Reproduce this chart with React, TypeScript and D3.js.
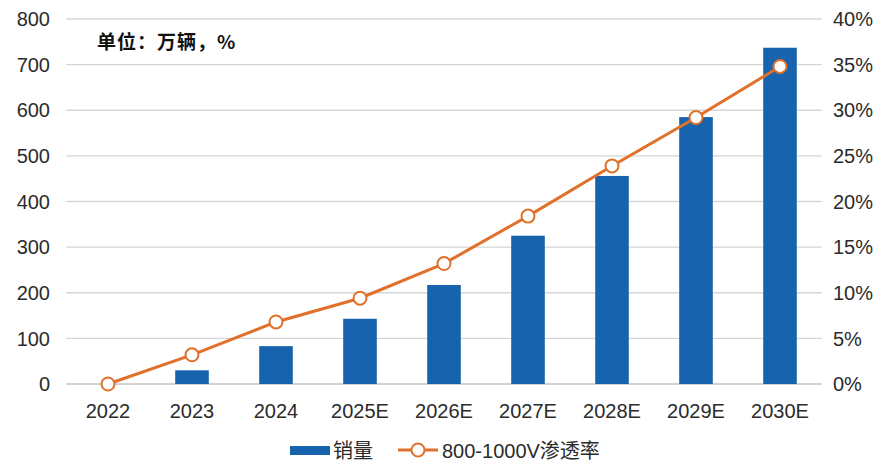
import React, { useEffect, useRef } from 'react';
import * as d3 from 'd3';

const categories = ['2022', '2023', '2024', '2025E', '2026E', '2027E', '2028E', '2029E', '2030E'];
const sales = [0, 30, 83, 143, 217, 325, 456, 585, 737];
const penetration = [0, 3.2, 6.8, 9.4, 13.2, 18.4, 23.9, 29.2, 34.8];
const leftTicks = [0, 100, 200, 300, 400, 500, 600, 700, 800];
const rightTicks = [0, 5, 10, 15, 20, 25, 30, 35, 40];

const W = 894;
const H = 469;

const App: React.FC = () => {
    const svgRef = useRef<SVGSVGElement>(null);

    useEffect(() => {
        if (!svgRef.current) return;
        const svg = d3.select(svgRef.current);
        svg.selectAll('*').remove();

        const font = 'Liberation Sans, Arial, sans-serif';
        const cjk = 'Noto Sans CJK SC, sans-serif';
        const left = 66, right = 822, top = 19, bottom = 384;

        const x = d3.scaleBand<string>().domain(categories).range([left, right]).paddingInner(0.6).paddingOuter(0.3);
        const xc = d3.scalePoint<string>().domain(categories).range([left, right]).padding(0.5);
        const yL = d3.scaleLinear().domain([0, 800]).range([bottom, top]);
        const yR = d3.scaleLinear().domain([0, 40]).range([bottom, top]);

        // gridlines
        svg.append('g')
            .selectAll('line')
            .data(leftTicks)
            .enter()
            .append('line')
            .attr('x1', left)
            .attr('x2', right)
            .attr('y1', d => yL(d))
            .attr('y2', d => yL(d))
            .attr('stroke', d => (d === 0 ? '#c4c4c4' : '#d6d6d6'))
            .attr('stroke-width', 1.3);

        // left axis labels
        svg.append('g')
            .selectAll('text')
            .data(leftTicks)
            .enter()
            .append('text')
            .attr('x', 50)
            .attr('y', d => yL(d))
            .attr('dy', '0.36em')
            .attr('text-anchor', 'end')
            .style('font-family', font)
            .style('font-size', '20px')
            .style('fill', '#2b2b2b')
            .text(d => d);

        // right axis labels
        svg.append('g')
            .selectAll('text')
            .data(rightTicks)
            .enter()
            .append('text')
            .attr('x', 833)
            .attr('y', d => yR(d))
            .attr('dy', '0.36em')
            .attr('text-anchor', 'start')
            .style('font-family', font)
            .style('font-size', '20px')
            .style('fill', '#2b2b2b')
            .text(d => `${d}%`);

        // x labels
        svg.append('g')
            .selectAll('text')
            .data(categories)
            .enter()
            .append('text')
            .attr('x', d => xc(d) as number)
            .attr('y', 418)
            .attr('text-anchor', 'middle')
            .style('font-family', font)
            .style('font-size', '20px')
            .style('fill', '#2b2b2b')
            .text(d => d);

        // bars
        svg.append('g')
            .selectAll('rect')
            .data(sales)
            .enter()
            .append('rect')
            .attr('x', (_, i) => x(categories[i]) as number)
            .attr('width', x.bandwidth())
            .attr('y', d => yL(d))
            .attr('height', d => bottom - yL(d))
            .attr('fill', '#1763ae');

        // line
        const line = d3.line<number>()
            .x((_, i) => xc(categories[i]) as number)
            .y(d => yR(d));

        svg.append('path')
            .datum(penetration)
            .attr('d', line)
            .attr('fill', 'none')
            .attr('stroke', '#e0702a')
            .attr('stroke-width', 3);

        svg.append('g')
            .selectAll('circle')
            .data(penetration)
            .enter()
            .append('circle')
            .attr('cx', (_, i) => xc(categories[i]) as number)
            .attr('cy', d => yR(d))
            .attr('r', 6.5)
            .attr('fill', '#fff')
            .attr('stroke', '#e0702a')
            .attr('stroke-width', 2);

        // unit label
        svg.append('text')
            .attr('x', 97)
            .attr('y', 49)
            .style('font-family', cjk)
            .style('font-size', '19px')
            .style('font-weight', 'bold')
            .style('letter-spacing', '1px')
            .style('fill', '#111')
            .text('单位：万辆，%');

        // legend
        const leg = svg.append('g');
        leg.append('rect')
            .attr('x', 290).attr('y', 446).attr('width', 40).attr('height', 9)
            .attr('fill', '#1763ae');
        leg.append('text')
            .attr('x', 333).attr('y', 458)
            .style('font-family', cjk)
            .style('font-size', '20px')
            .style('fill', '#2b2b2b')
            .text('销量');
        leg.append('line')
            .attr('x1', 398).attr('x2', 438).attr('y1', 450).attr('y2', 450)
            .attr('stroke', '#e0702a').attr('stroke-width', 3);
        leg.append('circle')
            .attr('cx', 418).attr('cy', 450).attr('r', 6.5)
            .attr('fill', '#fff').attr('stroke', '#e0702a').attr('stroke-width', 2);
        leg.append('text')
            .attr('x', 442).attr('y', 458)
            .style('font-family', 'Liberation Sans, Arial, Noto Sans CJK SC, sans-serif')
            .style('font-size', '20px')
            .style('fill', '#2b2b2b')
            .text('800-1000V渗透率');
    }, []);

    return (
        <svg
            ref={svgRef}
            width={W}
            height={H}
            style={{ position: 'absolute', left: 0, top: 0, background: '#fff' }}
        />
    );
};

export default App;
